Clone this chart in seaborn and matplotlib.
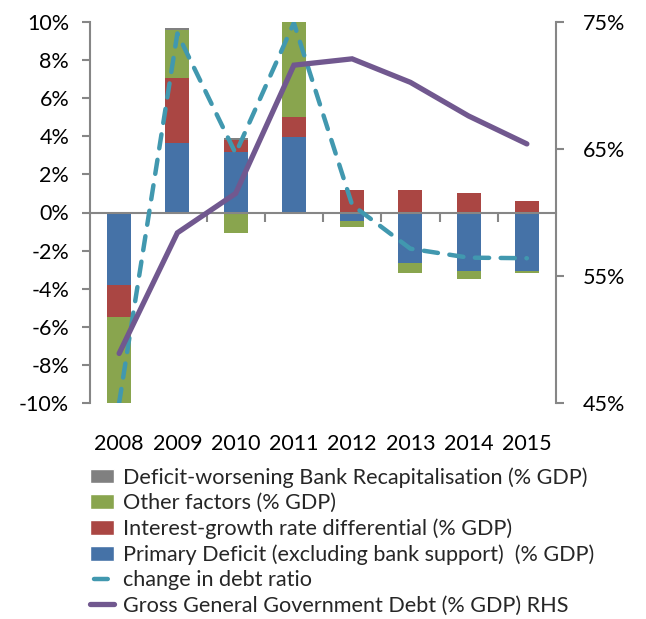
import numpy as np
import pandas as pd
import matplotlib
matplotlib.use("Agg")
import matplotlib.pyplot as plt
from matplotlib.patches import Patch
from matplotlib.lines import Line2D
import seaborn as sns

# Debt dynamics, 2008-2015 (percent of GDP)
years = ["2008", "2009", "2010", "2011", "2012", "2013", "2014", "2015"]
primary_deficit = [-3.82, 3.63, 3.19, 3.94, -0.45, -2.65, -3.07, -3.07]
interest_growth = [-1.66, 3.45, 0.61, 1.05, 1.20, 1.20, 1.00, 0.58]
other_factors = [-4.50, 2.50, -1.08, 5.00, -0.32, -0.53, -0.42, -0.11]
bank_recap = [0.00, 0.12, 0.12, 0.00, 0.00, 0.00, 0.00, 0.00]
change_in_debt = [-10.0, 9.4, 3.1, 9.95, 0.4, -1.9, -2.37, -2.4]
gross_debt = [48.9, 58.4, 61.5, 71.6, 72.1, 70.25, 67.6, 65.4]

series_names = [
    "Primary Deficit (excluding bank support)  (% GDP)",
    "Interest-growth rate differential (% GDP)",
    "Other factors (% GDP)",
    "Deficit-worsening Bank Recapitalisation (% GDP)",
]
series_values = [primary_deficit, interest_growth, other_factors, bank_recap]
series_colors = ["#4572A7", "#AA4643", "#89A54E", "#808080"]
line_change_name = "change in debt ratio"
line_debt_name = "Gross General Government Debt (% GDP) RHS"
teal = "#4198AF"
purple = "#71588F"
axis_grey = "#868686"

sns.set_theme(style="white")
plt.rcParams["font.family"] = ["Lato", "DejaVu Sans"]

fig = plt.figure(figsize=(6.46, 6.19), dpi=100)
ax = fig.add_axes([90 / 646, 1 - 403 / 619, 466 / 646, 381 / 619])

# Stacked bars: positives stack upward, negatives stack downward
pos_base = np.zeros(len(years))
neg_base = np.zeros(len(years))
for name, vals, col in zip(series_names, series_values, series_colors):
    vals = np.asarray(vals, dtype=float)
    base = np.where(vals >= 0, pos_base, neg_base)
    df = pd.DataFrame({"year": years, "value": vals})
    sns.barplot(data=df, x="year", y="value", order=years, color=col,
                saturation=1, width=0.41, bottom=base, ax=ax,
                linewidth=0, errorbar=None)
    pos_base = pos_base + np.where(vals > 0, vals, 0)
    neg_base = neg_base + np.where(vals < 0, vals, 0)

sns.lineplot(x=years, y=change_in_debt, ax=ax, color=teal, linewidth=3.2,
             linestyle=(0, (3.2, 2.6)), dash_capstyle="round", sort=False,
             zorder=5)

ax.set_xlim(-0.5, len(years) - 0.5)
ax.set_ylim(-10, 10)
ax.set_yticks(np.arange(-10, 11, 2))
ax.set_yticklabels([f"{v}%" for v in range(-10, 11, 2)])
ax.set_xlabel("")
ax.set_ylabel("")

for side in ["top", "right"]:
    ax.spines[side].set_visible(False)
ax.spines["left"].set_color(axis_grey)
ax.spines["left"].set_linewidth(1.5)
ax.spines["bottom"].set_position(("data", 0))
ax.spines["bottom"].set_color(axis_grey)
ax.spines["bottom"].set_linewidth(1.5)
ax.set_xticks(np.arange(len(years)))
ax.set_xticklabels([""] * len(years))
ax.set_xticks(np.arange(0.5, len(years) - 1, 1), minor=True)
ax.tick_params(axis="x", which="major", length=0)
ax.tick_params(axis="x", which="minor", length=6.5, width=1.5,
               color=axis_grey, direction="out", bottom=True)
ax.tick_params(axis="y", length=6, width=1.5, color=axis_grey,
               direction="out", left=True, labelsize=15.5, pad=9,
               labelcolor="black")

# Year labels along the bottom of the plot area
yax = ax.secondary_xaxis("bottom")
yax.set_xticks(np.arange(len(years)))
yax.set_xticklabels(years)
yax.spines["bottom"].set_visible(False)
yax.tick_params(axis="x", length=0, pad=22, labelsize=15.5,
                labelcolor="black")

# Right axis: debt level
ax2 = ax.twinx()
sns.lineplot(x=np.arange(len(years)), y=gross_debt, ax=ax2, color=purple,
             linewidth=3.8, solid_capstyle="round", solid_joinstyle="miter",
             sort=False)
ax2.set_xlim(-0.5, len(years) - 0.5)
ax2.set_ylim(45, 75)
ax2.set_yticks([45, 55, 65, 75])
ax2.set_yticklabels(["45%", "55%", "65%", "75%"])
ax2.set_ylabel("")
for side in ["top", "left", "bottom"]:
    ax2.spines[side].set_visible(False)
ax2.spines["right"].set_color(axis_grey)
ax2.spines["right"].set_linewidth(1.5)
ax2.tick_params(axis="y", length=6, width=1.5, color=axis_grey,
                direction="out", right=True, labelsize=15.5, pad=13,
                labelcolor="black")

handles = [
    Patch(facecolor=series_colors[3], label=series_names[3]),
    Patch(facecolor=series_colors[2], label=series_names[2]),
    Patch(facecolor=series_colors[1], label=series_names[1]),
    Patch(facecolor=series_colors[0], label=series_names[0]),
    Line2D([], [], color=teal, linewidth=3.2, linestyle=(22.2, (3.1, 20)),
           dash_capstyle="round", label=line_change_name),
    Line2D([], [], color=purple, linewidth=3.8, solid_capstyle="round",
           label=line_debt_name),
]
fig.legend(handles=handles, loc="upper left",
           bbox_to_anchor=(90 / 646, 1 - 467 / 619), frameon=False,
           fontsize=15.6, handlelength=1.1, handleheight=0.65,
           handletextpad=0.42, labelspacing=0.25, borderaxespad=0,
           borderpad=0)

fig.savefig("out.png", dpi=100)
